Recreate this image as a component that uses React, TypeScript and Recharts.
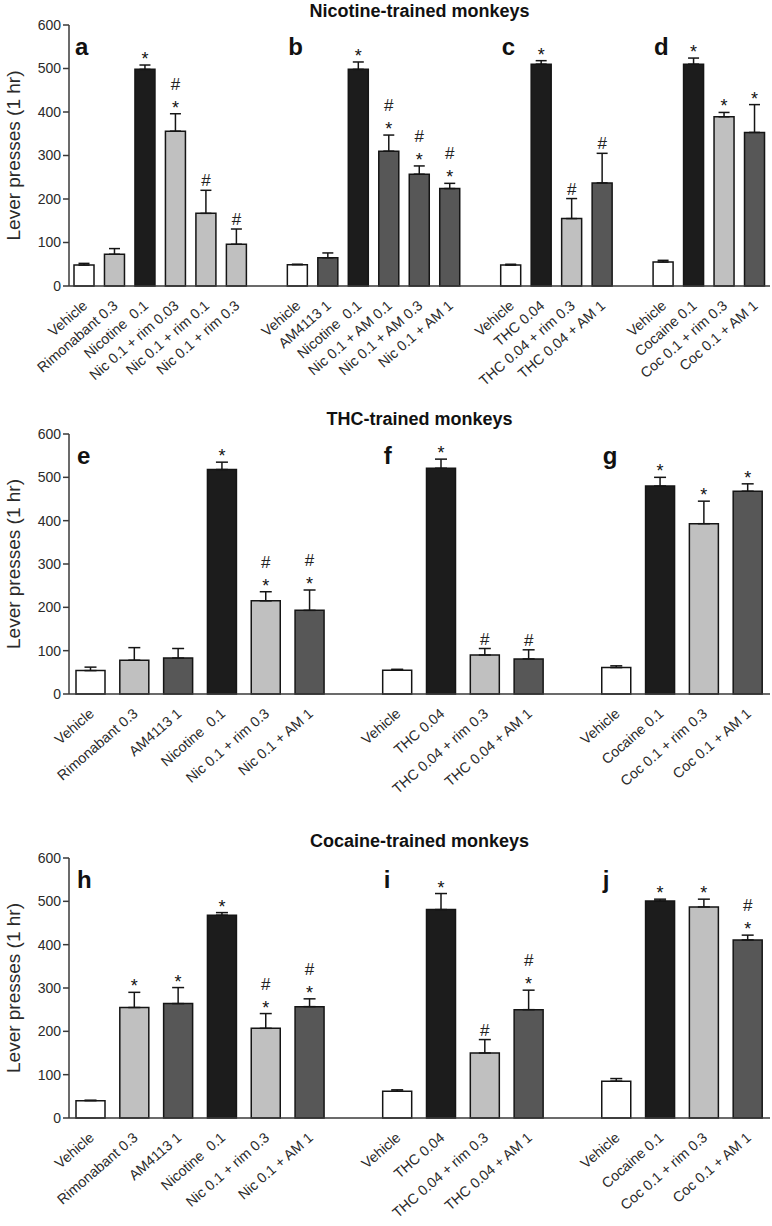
import { BarChart, Bar, XAxis, YAxis, ErrorBar, Cell, LabelList, Label } from "recharts";

// slots with '' are the empty gaps between panels
const nicLabels = [
  "Vehicle", "Rimonabant 0.3", "Nicotine  0.1", "Nic 0.1 + rim 0.03", "Nic 0.1 + rim 0.1", "Nic 0.1 + rim 0.3", "",
  "Vehicle", "AM4113 1", "Nicotine  0.1", "Nic 0.1 + AM 0.1", "Nic 0.1 + AM 0.3", "Nic 0.1 + AM 1", "",
  "Vehicle", "THC 0.04", "THC 0.04 + rim 0.3", "THC 0.04 + AM 1", "",
  "Vehicle", "Cocaine 0.1", "Coc 0.1 + rim 0.3", "Coc 0.1 + AM 1",
];
const nicValues = [48, 73, 498, 356, 167, 96, null, 49, 65, 498, 310, 257, 224, null, 48, 510, 155, 237, null, 55, 510, 389, 353];
const nicErrors = [4, 13, 10, 40, 53, 35, null, 1, 11, 17, 37, 19, 12, null, 2, 8, 46, 68, null, 4, 14, 10, 64];
const nicKinds = ["veh", "rim", "drug", "rim", "rim", "rim", "", "veh", "am", "drug", "am", "am", "am", "", "veh", "drug", "rim", "am", "", "veh", "drug", "rim", "am"];
const nicMarks = ["", "", "*", "*#", "#", "#", "", "", "", "*", "*#", "*#", "*#", "", "", "*", "#", "#", "", "", "*", "*", "*"];
const nicLetters = ["a", "b", "c", "d"];

const otherLabels = [
  "Vehicle", "Rimonabant 0.3", "AM4113 1", "Nicotine  0.1", "Nic 0.1 + rim 0.3", "Nic 0.1 + AM 1", "",
  "Vehicle", "THC 0.04", "THC 0.04 + rim 0.3", "THC 0.04 + AM 1", "",
  "Vehicle", "Cocaine 0.1", "Coc 0.1 + rim 0.3", "Coc 0.1 + AM 1",
];
const otherKinds = ["veh", "rim", "am", "drug", "rim", "am", "", "veh", "drug", "rim", "am", "", "veh", "drug", "rim", "am"];

const thcValues = [54, 78, 83, 518, 215, 193, null, 55, 521, 90, 81, null, 61, 480, 393, 468];
const thcErrors = [8, 29, 22, 17, 21, 47, null, 2, 21, 15, 21, null, 4, 20, 52, 17];
const thcMarks = ["", "", "", "*", "*#", "*#", "", "", "*", "#", "#", "", "", "*", "*", "*"];
const thcLetters = ["e", "f", "g"];

const cocValues = [40, 255, 264, 468, 207, 257, null, 62, 481, 150, 250, null, 85, 501, 487, 411];
const cocErrors = [1, 35, 37, 6, 34, 18, null, 3, 37, 31, 45, null, 6, 4, 18, 11];
const cocMarks = ["", "*", "*", "*", "*#", "*#", "", "", "*", "#", "*#", "", "", "*", "*", "*#"];
const cocLetters = ["h", "i", "j"];

const yTicks = [0, 100, 200, 300, 400, 500, 600];

const fills: Record<string, string> = { veh: "#ffffff", rim: "#c0c0c0", am: "#575757", drug: "#1c1c1c", "": "none" };
const FONT = "'Liberation Sans', Arial, sans-serif";
const INK = "#2a2a2a";

interface RowProps {
  title: string;
  top: number;
  height: number;
  marginTop: number;
  axisHeight: number;
  marginBottom: number;
  barSize: number;
  cap: number;
  labels: string[];
  values: (number | null)[];
  errors: (number | null)[];
  kinds: string[];
  marks: string[];
  letters: string[];
}

const PanelRow = (p: RowProps) => {
  const data = p.labels.map((_, i) => ({
    slot: i,
    value: p.values[i],
    err: p.values[i] == null ? null : [0, p.errors[i] ?? 0],
  }));
  const letterAt: Record<number, string> = {};
  let n = 0;
  p.kinds.forEach((k, i) => {
    if (k === "veh") letterAt[i] = p.letters[n++];
  });
  const plotH = p.height - p.marginTop - p.axisHeight - p.marginBottom;

  const renderTick = (t: any) => {
    const text = p.labels[t.payload.value];
    if (!text) return null;
    const ax = t.x + 4;
    const ay = t.y + 13;
    return (
      <text x={ax} y={ay} transform={`rotate(-41, ${ax}, ${ay})`} textAnchor="end" fontSize={14.3}
        fill={INK} fontFamily={FONT} style={{ whiteSpace: "pre" }}>
        {text}
      </text>
    );
  };

  const renderMarks = (l: any) => {
    const i = Number(l.value);
    const v = p.values[i];
    const out: any[] = [];
    if (letterAt[i]) {
      out.push(
        <text key="letter" x={l.x + 1} y={p.marginTop + 30} fontSize={24} fontWeight="bold" fill="#111" fontFamily={FONT}>
          {letterAt[i]}
        </text>
      );
    }
    if (v != null && p.marks[i]) {
      const errTop = l.y - (p.errors[i] ?? 0) * (l.height / v);
      const cx = l.x + l.width / 2;
      p.marks[i].split("").forEach((s, k) => {
        const c = errTop - 10 - 20 * k;
        out.push(
          s === "*" ? (
            <text key={k} x={cx} y={c + 10} fontSize={18} textAnchor="middle" fill="#111" fontFamily={FONT}>*</text>
          ) : (
            <text key={k} x={cx} y={c + 6} fontSize={17} textAnchor="middle" fill="#222" fontFamily={FONT}>#</text>
          )
        );
      });
    }
    return <g>{out}</g>;
  };

  return (
    <div style={{ position: "absolute", left: 0, top: p.top, width: 772, height: p.height }}>
      <div style={{ position: "absolute", left: 69, top: 2, width: 701, textAlign: "center", fontSize: 18,
        lineHeight: "18px", fontWeight: "bold", color: "#111", fontFamily: FONT }}>
        {p.title}
      </div>
      <BarChart width={772} height={p.height} data={data}
        margin={{ top: p.marginTop, right: 2, left: 0, bottom: p.marginBottom }}>
        <XAxis dataKey="slot" type="category" interval={0} tickLine={false} tick={renderTick}
          height={p.axisHeight} axisLine={{ stroke: "#3a3a3a", strokeWidth: 1.5 }} />
        <YAxis domain={[0, 600]} ticks={yTicks} width={69} tickSize={6} interval={0}
          axisLine={{ stroke: "#3a3a3a", strokeWidth: 1.5 }} tickLine={{ stroke: "#3a3a3a", strokeWidth: 1.5 }}
          tick={{ fontSize: 14, fill: INK, fontFamily: FONT }}>
          <Label content={() => (
            <text transform={`translate(13, ${p.marginTop + plotH / 2}) rotate(-90)`} textAnchor="middle"
              dominantBaseline="central" fontSize={19} fill={INK} fontFamily={FONT}>
              Lever presses (1 hr)
            </text>
          )} />
        </YAxis>
        <Bar dataKey="value" barSize={p.barSize} stroke="#151515" strokeWidth={1.5} isAnimationActive={false}>
          {data.map((d) => (
            <Cell key={d.slot} fill={fills[p.kinds[d.slot]]} />
          ))}
          <ErrorBar dataKey="err" width={p.cap} stroke="#151515" strokeWidth={1.5} direction="y" />
          <LabelList dataKey="slot" content={renderMarks} />
        </Bar>
      </BarChart>
    </div>
  );
}

export default function App() {
  return (
    <div style={{ position: "absolute", left: 0, top: 0, width: 772, height: 1226, background: "#fff" }}>
      <PanelRow title="Nicotine-trained monkeys" top={0} height={400} marginTop={25} axisHeight={100}
        marginBottom={14} barSize={20} cap={5.5} labels={nicLabels} values={nicValues} errors={nicErrors}
        kinds={nicKinds} marks={nicMarks} letters={nicLetters} />
      <PanelRow title="THC-trained monkeys" top={408} height={412} marginTop={26} axisHeight={110}
        marginBottom={16} barSize={29} cap={6} labels={otherLabels} values={thcValues} errors={thcErrors}
        kinds={otherKinds} marks={thcMarks} letters={thcLetters} />
      <PanelRow title="Cocaine-trained monkeys" top={830} height={396} marginTop={28} axisHeight={100}
        marginBottom={8} barSize={29} cap={6} labels={otherLabels} values={cocValues} errors={cocErrors}
        kinds={otherKinds} marks={cocMarks} letters={cocLetters} />
    </div>
  );
}
